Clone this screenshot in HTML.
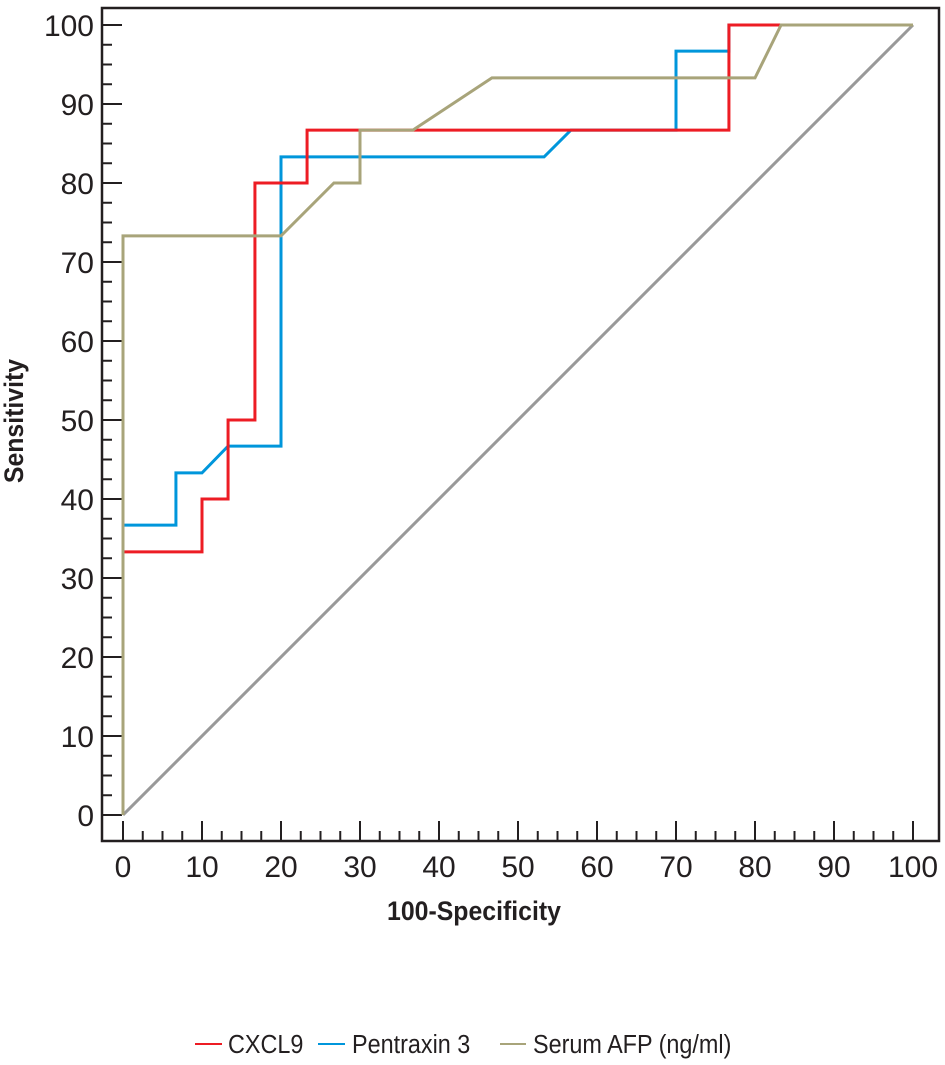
<!DOCTYPE html>
<html><head><meta charset="utf-8"><style>
html,body{margin:0;padding:0;background:#fff;}
svg text{font-family:"Liberation Sans Narrow","Liberation Sans",sans-serif;fill:#231f20;}
</style></head><body>
<svg id="chart" width="945" height="1060" viewBox="0 0 945 1060" xmlns="http://www.w3.org/2000/svg">
<rect x="102" y="8" width="837" height="833" fill="none" stroke="#231f20" stroke-width="2.5"/>
<g id="ticks"></g>
<g id="series"></g>
<text x="474" y="920" font-size="27" font-weight="bold" text-anchor="middle" transform="translate(474 0) scale(0.92 1) translate(-474 0)">100-Specificity</text>
<text x="0" y="0" font-size="27" font-weight="bold" text-anchor="middle" transform="translate(23 421) rotate(-90) scale(0.92 1)">Sensitivity</text>
<g>
<line x1="195" y1="1044" x2="222" y2="1044" stroke="#ed1c24" stroke-width="2"/>
<text x="228" y="1053" font-size="26" transform="translate(228 0) scale(0.9 1) translate(-228 0)">CXCL9</text>
<line x1="318" y1="1044" x2="345" y2="1044" stroke="#0096db" stroke-width="2"/>
<text x="352" y="1053" font-size="26" transform="translate(352 0) scale(0.9 1) translate(-352 0)">Pentraxin 3</text>
<line x1="500" y1="1044" x2="526" y2="1044" stroke="#a8a47a" stroke-width="2"/>
<text x="533" y="1053" font-size="26" transform="translate(533 0) scale(0.9 1) translate(-533 0)">Serum AFP (ng/ml)</text>
</g>
</svg>
<script>
const xTicks = [0,10,20,30,40,50,60,70,80,90,100];
const yTicks = [0,10,20,30,40,50,60,70,80,90,100];
const cxcl9X = [0,0,10,10,13.3,13.3,16.7,16.7,23.3,23.3,76.7,76.7,100];
const cxcl9Y = [0,33.3,33.3,40,40,50,50,80,80,86.7,86.7,100,100];
const ptxX = [0,0,6.7,6.7,10,13.3,20,20,53.3,56.7,70,70,76.7,76.7,100];
const ptxY = [0,36.7,36.7,43.3,43.3,46.7,46.7,83.3,83.3,86.7,86.7,96.7,96.7,100,100];
const afpX = [0,0,20,26.7,30,30,36.7,46.7,80,83.3,100];
const afpY = [0,73.3,73.3,80,80,86.7,86.7,93.3,93.3,100,100];
const refX = [0,100];
const refY = [0,100];

const NS = "http://www.w3.org/2000/svg";
const sx = v => 123 + v * 7.9;
const sy = v => 815 - v * 7.9;
const tg = document.getElementById('ticks');
const sg = document.getElementById('series');
function mk(tag, attrs, parent){const e=document.createElementNS(NS,tag);for(const k in attrs)e.setAttribute(k,attrs[k]);parent.appendChild(e);return e;}
for (let v=0; v<=100; v+=2.5){
  const major = v%10===0;
  const t1 = mk('line',{x1:sx(v),x2:sx(v),y1:841,y2:major?821:831,stroke:'#231f20','stroke-width':2},tg);
  
  
  const t2 = mk('line',{x1:102,x2:major?122:112,y1:sy(v),y2:sy(v),stroke:'#231f20','stroke-width':2},tg);
  
  
}
xTicks.forEach(v=>{
  const t = mk('text',{x:sx(v),y:877,'font-size':30,'text-anchor':'middle'},tg);
  t.textContent = v;
  
  
});
yTicks.forEach(v=>{
  const t = mk('text',{x:94,y:sy(v)+11,'font-size':30,'text-anchor':'end'},tg);
  t.textContent = v;
  
  
});
function line(xs, ys, color, name){
  const p = mk('polyline',{points:xs.map((x,i)=>sx(x)+','+sy(ys[i])).join(' '),fill:'none',stroke:color,'stroke-width':3,'stroke-linejoin':'miter'},sg);
  
  
}
line(refX, refY, '#999999', 'reference-diagonal');
line(ptxX, ptxY, '#0096db', 'series-pentraxin-3');
line(cxcl9X, cxcl9Y, '#ed1c24', 'series-cxcl9');
line(afpX, afpY, '#a8a47a', 'series-serum-afp');
</script>
</body></html>
